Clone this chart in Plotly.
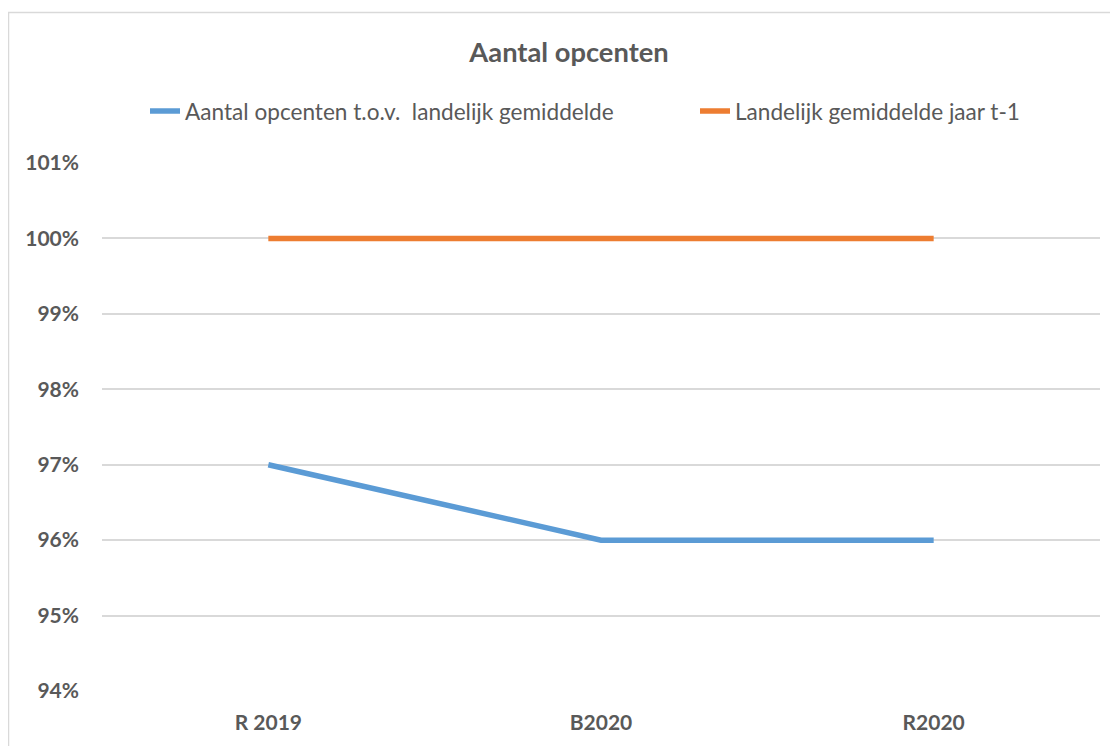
import plotly.graph_objects as go

categories = ["R 2019", "B2020", "R2020"]
series_names = ["Aantal opcenten t.o.v.  landelijk gemiddelde", "Landelijk gemiddelde jaar t-1"]
blue_values = [0.97, 0.96, 0.96]
orange_values = [1.00, 1.00, 1.00]
y_ticks = [0.94, 0.95, 0.96, 0.97, 0.98, 0.99, 1.00, 1.01]

GRAY = "#595959"
FONT = "Lato"

fig = go.Figure()
fig.add_trace(go.Scatter(x=categories, y=blue_values, mode="lines", name=series_names[0],
                         line=dict(color="#5B9BD5", width=5.5), legend="legend"))
fig.add_trace(go.Scatter(x=categories, y=orange_values, mode="lines", name=series_names[1],
                         line=dict(color="#ED7D31", width=5.5), legend="legend2"))

# figure coordinates (page has an 8px body margin)
W, H = 1110, 738
L, R, T, B = 94, 18, 155, 53
pw = W - L - R
ph = H - T - B

def px2x(px):
    return (px - L) / pw

def py2y(py):
    return (H - B - py) / ph

leg_common = dict(orientation="h", xanchor="left", yanchor="middle", y=py2y(103),
                  font=dict(size=22.6, color=GRAY, family=FONT), bgcolor="rgba(0,0,0,0)")

fig.update_layout(
    width=W, height=H,
    margin=dict(l=L, r=R, t=T, b=B),
    paper_bgcolor="white", plot_bgcolor="white",
    font=dict(family=FONT, color=GRAY, size=16),
    title=dict(text="<b>Aantal opcenten</b>", x=561 / W, xanchor="center",
               y=1 - 44 / H, yanchor="middle", font=dict(size=27.3, color=GRAY, family=FONT)),
    showlegend=True,
    legend=dict(x=px2x(137), **leg_common),
    legend2=dict(x=px2x(687), **leg_common),
    xaxis=dict(type="category", range=[-0.5, 2.5], showgrid=False, showline=False, zeroline=False,
               ticks="", tickfont=dict(size=21, color=GRAY, family=FONT, weight="bold"),
               ticklabelstandoff=17),
    yaxis=dict(range=[0.94, 1.01], tickvals=y_ticks, tickformat=".0%", showgrid=True,
               gridcolor="#D9D9D9", gridwidth=2, zeroline=False, showline=False, ticks="",
               tickfont=dict(size=21, color=GRAY, family=FONT, weight="bold"), ticklabelstandoff=22),
    shapes=[dict(type="rect", xref="paper", yref="paper",
                 x0=px2x(0.5), x1=px2x(1125), y0=py2y(760), y1=py2y(4),
                 line=dict(color="#D9D9D9", width=1.5), fillcolor="rgba(0,0,0,0)", layer="below")],
)

fig.write_html("out.html")
